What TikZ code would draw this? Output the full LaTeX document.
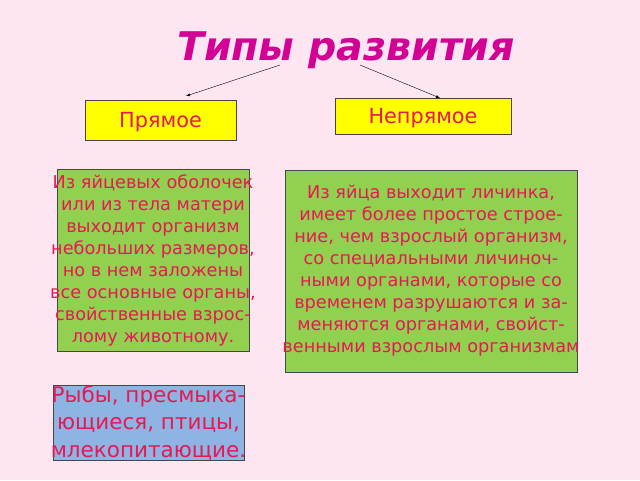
\documentclass[tikz,border=0pt]{standalone}
\usepackage{fontspec}
\setmainfont{DejaVu Sans}
\usepackage{tikz}

\definecolor{bgpink}{RGB}{253,229,241}
\definecolor{titlemag}{RGB}{212,0,150}
\definecolor{txtred}{RGB}{232,24,84}
\definecolor{boxyellow}{RGB}{255,255,0}
\definecolor{boxgreen}{RGB}{146,208,80}
\definecolor{boxblue}{RGB}{141,180,226}
\definecolor{edgegray}{RGB}{70,70,70}

\newcommand{\ctrline}[1]{\makebox[0pt]{#1}}

\tikzset{
  kindbox/.style={draw=edgegray,fill=boxyellow,inner sep=0pt,text=txtred,text depth=0pt,
    font=\fontsize{20.8}{22}\selectfont},
  notebox/.style={draw=edgegray,fill=boxgreen,inner sep=0pt,text=txtred,align=center,
    font=\fontsize{17.7}{22}\selectfont},
  groupbox/.style={draw=edgegray,fill=boxblue,inner sep=0pt,text=txtred,align=center,
    font=\fontsize{21.5}{27.5}\selectfont}
}

\begin{document}
\begin{tikzpicture}[x=1pt,y=-1pt]
\fill[bgpink] (0,0) rectangle (640,480);
\useasboundingbox (0,0) rectangle (640,480);

\node (title) at (346,50) {\fontsize{39.5}{42}\selectfont\bfseries\itshape\color{titlemag}Типы развития};

\node[kindbox,minimum width=151pt,minimum height=40pt] (direct) at (160.5,120) {Прямое};
\node[kindbox,minimum width=176pt,minimum height=36pt] (indirect) at (423,116) {Непрямое};

\coordinate (fromL) at (280,65);
\coordinate (toL) at (186,96);
\coordinate (fromR) at (360,65);
\coordinate (toR) at (440,98);
\draw[->,>=latex,thin] (fromL) -- (toL);
\draw[->,>=latex,thin] (fromR) -- (toR);

\node[notebox,minimum width=192pt,minimum height=182pt] (directnote) at (153,260) {%
\ctrline{Из яйцевых оболочек}\\
\ctrline{или из тела матери}\\
\ctrline{выходит организм}\\
\ctrline{небольших размеров,}\\
\ctrline{но в нем заложены}\\
\ctrline{все основные органы,}\\
\ctrline{свойственные взрос-}\\
\ctrline{лому животному.}};

\node[notebox,minimum width=292pt,minimum height=202pt] (indirectnote) at (431,271) {%
\ctrline{Из яйца выходит личинка,}\\
\ctrline{имеет более простое строе-}\\
\ctrline{ние, чем взрослый организм,}\\
\ctrline{со специальными личиноч-}\\
\ctrline{ными органами, которые со}\\
\ctrline{временем разрушаются и за-}\\
\ctrline{меняются органами, свойст-}\\
\ctrline{венными взрослым организмам}};

\node[groupbox,minimum width=191pt,minimum height=74pt] (animals) at (148.5,423) {%
\ctrline{Рыбы, пресмыка-}\\
\ctrline{ющиеся, птицы,}\\
\ctrline{млекопитающие.}};
\end{tikzpicture}
\end{document}
